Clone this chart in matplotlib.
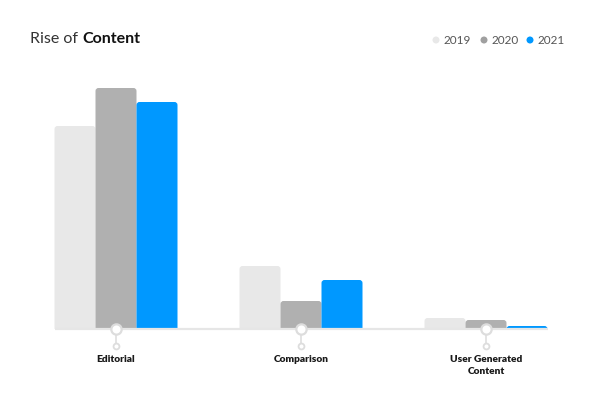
import numpy as np
import matplotlib
matplotlib.use('Agg')
from matplotlib import pyplot as plt
from matplotlib.patches import FancyBboxPatch, Rectangle, Ellipse

# data (arbitrary units)
categories = ['Editorial', 'Comparison', 'User Generated\nContent']
years = ['2019', '2020', '2021']
v2019 = [203, 63, 11]
v2020 = [241, 28, 9]
v2021 = [227, 49, 3]
colors = ['#e8e8e8', '#b0b0b0', '#0098ff']
legend_colors = ['#e8e8e8', '#a0a0a0', '#0098ff']

plt.rcParams['font.family'] = ['Lato', 'DejaVu Sans']

fig = plt.figure(figsize=(6.02, 4.00), dpi=100)
ax = fig.add_axes([0, 0, 1, 1])
# one x unit = 185 px, one y unit = 1 px
ax.set_xlim(-116 / 185, (602 - 116) / 185)
ax.set_ylim(-71, 329)
ax.axis('off')

x = np.arange(len(categories))
w = 41 / 185
series = [v2019, v2020, v2021]
clip = Rectangle((-1, 0), 5, 400, transform=ax.transData)
for i, vals in enumerate(series):
    for xi, v in zip(x, vals):
        left = xi + (i - 1.5) * w
        p = FancyBboxPatch((left, -6), w, v + 6,
                           boxstyle='round,pad=0,rounding_size=%f' % (3 / 185),
                           mutation_aspect=185, fc=colors[i], ec='none', zorder=2)
        ax.add_patch(p)
        p.set_clip_path(clip)

# baseline
ax.plot([-61 / 185, (548 - 116) / 185], [0, 0], color='#e6e6e6', lw=1.6, zorder=3,
        solid_capstyle='butt')

# axis pins
for xi in x:
    ax.plot([xi, xi], [0, -17], color='#e0e0e0', lw=1.3, zorder=3)
    ax.scatter([xi], [0], s=55, fc='white', ec='#dddddd', lw=1.6, zorder=4)
    ax.scatter([xi], [-17], s=18, fc='white', ec='#dddddd', lw=1.3, zorder=4)

for xi, c in zip(x, categories):
    ax.text(xi, -26, c, ha='center', va='top', fontsize=7.3, fontweight='heavy',
            color='#1a1a1a', linespacing=1.45)

# title
t1 = fig.text(30 / 602, 1 - 39 / 400, 'Rise of', fontsize=11.5, color='#333333',
              va='center', ha='left')
fig.canvas.draw()
bb = t1.get_window_extent()
fig.text((bb.x1 + 4) / 602, 1 - 39 / 400, 'Content', fontsize=11.5, color='#111111',
         va='center', ha='left', fontweight='bold')

# legend
lx = [436, 484, 530]
for px, yr, c in zip(lx, years, legend_colors):
    fig.patches.append(Ellipse((px / 602, 1 - 40 / 400), 7 / 602, 7 / 400,
                               transform=fig.transFigure, fc=c, ec='none'))
    fig.text((px + 8) / 602, 1 - 40 / 400, yr, fontsize=8.5, color='#555555',
             va='center', ha='left')

fig.savefig('out.png', dpi=100)
